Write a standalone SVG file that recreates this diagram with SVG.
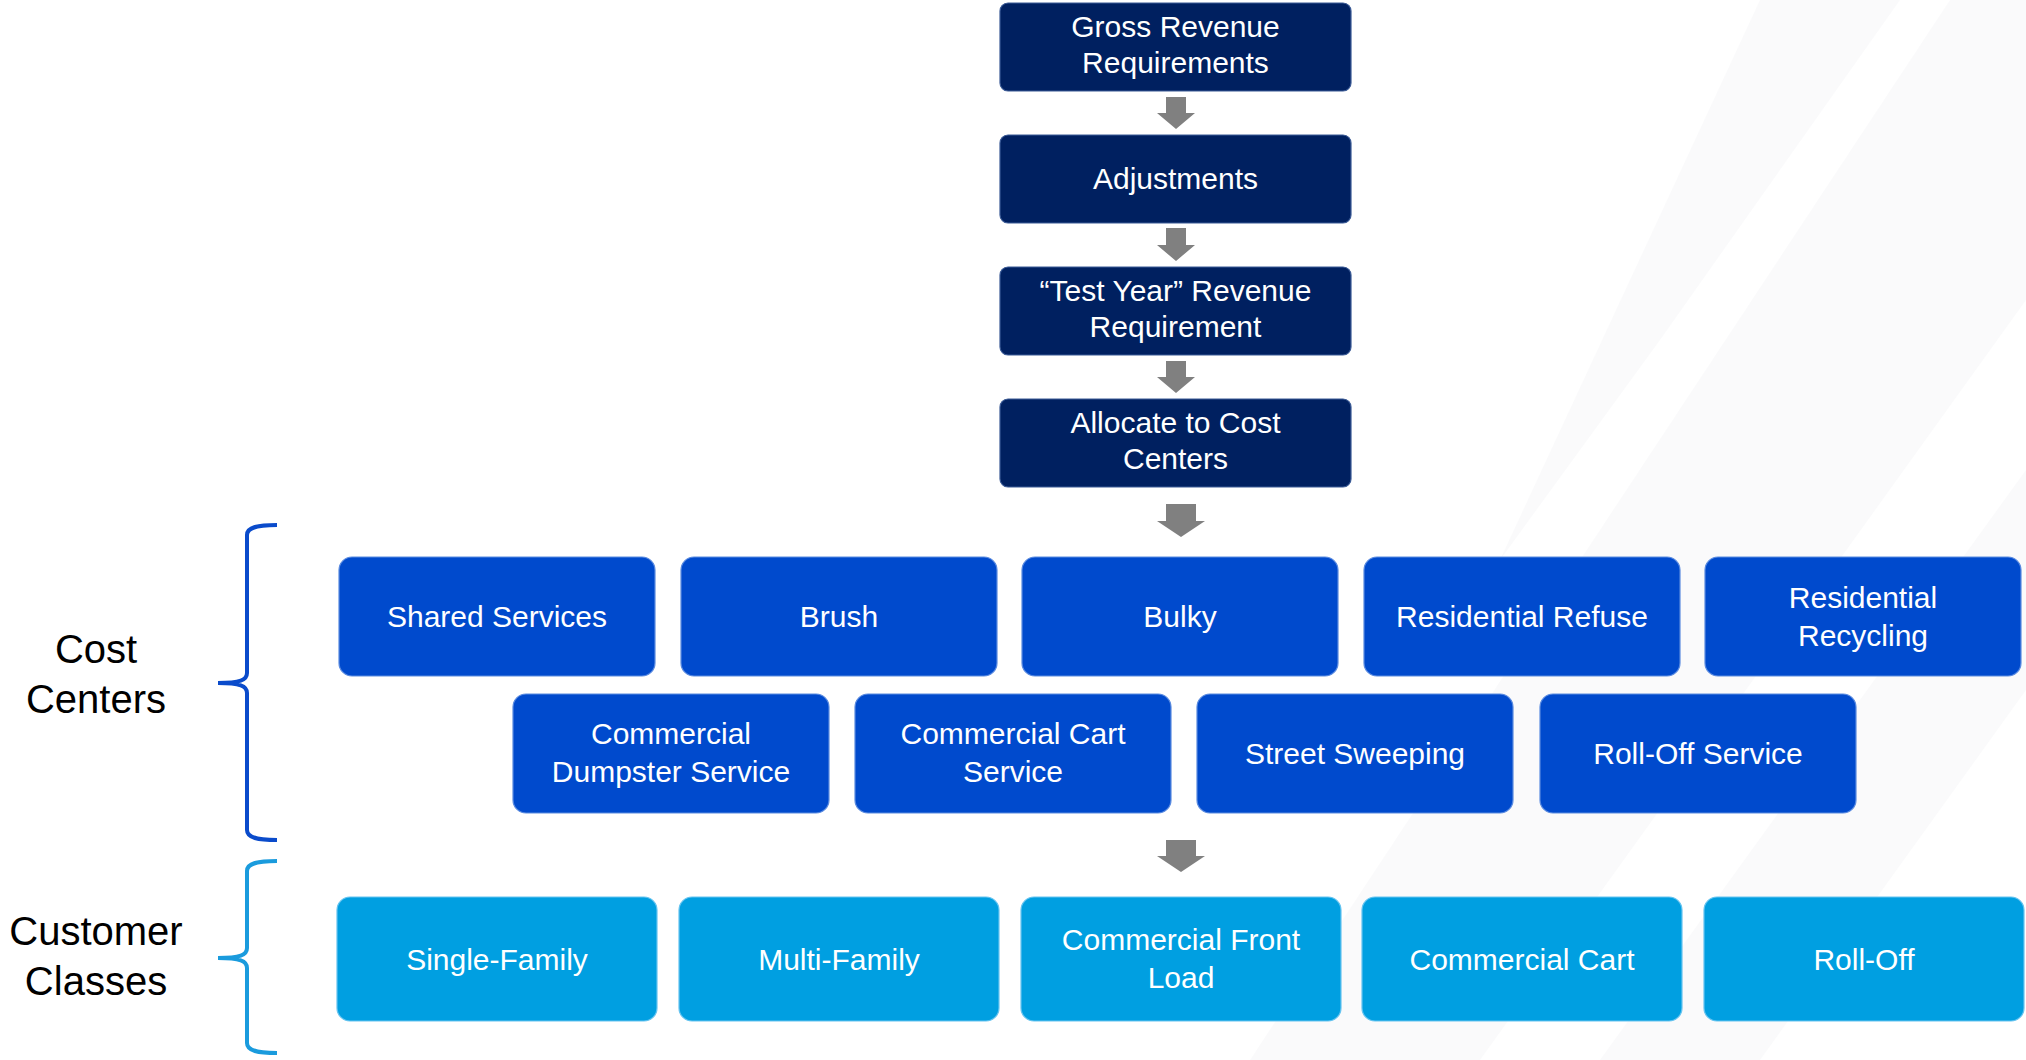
<svg xmlns="http://www.w3.org/2000/svg" width="2026" height="1060" viewBox="0 0 2026 1060">
<defs>
<style>
.t{font-family:"Liberation Sans",Arial,sans-serif;font-size:30px;fill:#ffffff;text-anchor:middle}
.lab{font-family:"Liberation Sans",Arial,sans-serif;font-size:40px;fill:#000000;text-anchor:middle}
.top{fill:#002060;stroke:#3a5a96;stroke-width:1.2}
.cc{fill:#004ACD;stroke:#5a8be0;stroke-width:1.2}
.cu{fill:#009FE1;stroke:#66c4f0;stroke-width:1.2}
.arr{fill:#808080}
.band{fill:#f3f4f6;opacity:0.45}
</style>
</defs>
<rect x="0" y="0" width="2026" height="1060" fill="#ffffff"/>
<g id="background">
<polygon class="band" points="1250,1060 1480,1060 2026,300 2026,0 1950,0"/>
<polygon class="band" points="1600,1060 1760,1060 2026,690 2026,470"/>
<polygon class="band" points="1500,560 1660,340 1900,0 1760,0"/>
</g>
<g id="connectors">
<polygon class="arr" points="1166,97 1186,97 1186,113 1195,113 1176,129 1157,113 1166,113"/>
<polygon class="arr" points="1166,228 1186,228 1186,245 1195,245 1176,261 1157,245 1166,245"/>
<polygon class="arr" points="1166,361 1186,361 1186,377 1195,377 1176,393 1157,377 1166,377"/>
<polygon class="arr" points="1166,504 1196,504 1196,521 1205,521 1181,537 1157,521 1166,521"/>
<polygon class="arr" points="1166,840 1196,840 1196,856 1205,856 1181,872 1157,856 1166,856"/>
</g>
<g id="brace-cost">
<path d="M277,525 C258,525 247,527 247,535 L247,673 C247,680 240,683 218,683 C240,683 247,686 247,693 L247,830 C247,838 258,840 277,840" fill="none" stroke="#0A4BCB" stroke-width="4"/>
<text class="lab" x="96" y="663">Cost</text>
<text class="lab" x="96" y="713">Centers</text>
</g>
<g id="brace-customer">
<path d="M277,861 C258,861 247,863 247,871 L247,948 C247,955 240,958 218,958 C240,958 247,961 247,968 L247,1043 C247,1051 258,1053 277,1053" fill="none" stroke="#1A9BDD" stroke-width="4"/>
<text class="lab" x="96" y="945">Customer</text>
<text class="lab" x="96" y="995">Classes</text>
</g>
<g id="gross-revenue"><rect class="top" x="1000" y="3" width="351" height="88" rx="8"/><text class="t" x="1175.5" y="37">Gross Revenue</text><text class="t" x="1175.5" y="73">Requirements</text></g>
<g id="adjustments"><rect class="top" x="1000" y="135" width="351" height="88" rx="8"/><text class="t" x="1175.5" y="189">Adjustments</text></g>
<g id="test-year"><rect class="top" x="1000" y="267" width="351" height="88" rx="8"/><text class="t" x="1175.5" y="301">“Test Year” Revenue</text><text class="t" x="1175.5" y="337">Requirement</text></g>
<g id="allocate"><rect class="top" x="1000" y="399" width="351" height="88" rx="8"/><text class="t" x="1175.5" y="433">Allocate to Cost</text><text class="t" x="1175.5" y="469">Centers</text></g>
<g id="shared-services"><rect class="cc" x="339" y="557" width="316" height="119" rx="13"/><text class="t" x="497" y="627">Shared Services</text></g>
<g id="brush"><rect class="cc" x="681" y="557" width="316" height="119" rx="13"/><text class="t" x="839" y="627">Brush</text></g>
<g id="bulky"><rect class="cc" x="1022" y="557" width="316" height="119" rx="13"/><text class="t" x="1180" y="627">Bulky</text></g>
<g id="residential-refuse"><rect class="cc" x="1364" y="557" width="316" height="119" rx="13"/><text class="t" x="1522" y="627">Residential Refuse</text></g>
<g id="residential-recycling"><rect class="cc" x="1705" y="557" width="316" height="119" rx="13"/><text class="t" x="1863" y="608">Residential</text><text class="t" x="1863" y="646">Recycling</text></g>
<g id="commercial-dumpster"><rect class="cc" x="513" y="694" width="316" height="119" rx="13"/><text class="t" x="671" y="744">Commercial</text><text class="t" x="671" y="782">Dumpster Service</text></g>
<g id="commercial-cart-service"><rect class="cc" x="855" y="694" width="316" height="119" rx="13"/><text class="t" x="1013" y="744">Commercial Cart</text><text class="t" x="1013" y="782">Service</text></g>
<g id="street-sweeping"><rect class="cc" x="1197" y="694" width="316" height="119" rx="13"/><text class="t" x="1355" y="764">Street Sweeping</text></g>
<g id="roll-off-service"><rect class="cc" x="1540" y="694" width="316" height="119" rx="13"/><text class="t" x="1698" y="764">Roll-Off Service</text></g>
<g id="single-family"><rect class="cu" x="337" y="897" width="320" height="124" rx="13"/><text class="t" x="497" y="970">Single-Family</text></g>
<g id="multi-family"><rect class="cu" x="679" y="897" width="320" height="124" rx="13"/><text class="t" x="839" y="970">Multi-Family</text></g>
<g id="commercial-front-load"><rect class="cu" x="1021" y="897" width="320" height="124" rx="13"/><text class="t" x="1181" y="950">Commercial Front</text><text class="t" x="1181" y="988">Load</text></g>
<g id="commercial-cart"><rect class="cu" x="1362" y="897" width="320" height="124" rx="13"/><text class="t" x="1522" y="970">Commercial Cart</text></g>
<g id="roll-off"><rect class="cu" x="1704" y="897" width="320" height="124" rx="13"/><text class="t" x="1864" y="970">Roll-Off</text></g>
</svg>
